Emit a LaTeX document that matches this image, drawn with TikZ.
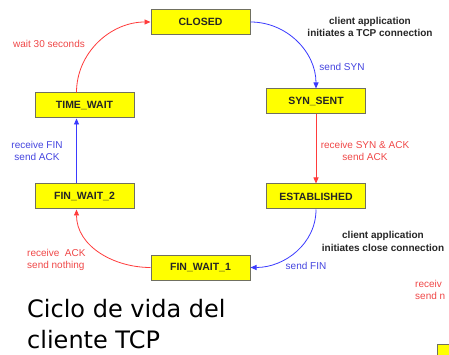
\documentclass[tikz,border=0pt]{standalone}
\usepackage{fontspec}
\setmainfont{Liberation Sans}
\newfontfamily\titlefont{DejaVu Sans}
\usetikzlibrary{arrows.meta}
\definecolor{boxyellow}{HTML}{FFFF00}
\definecolor{boxborder}{HTML}{707060}
\definecolor{arrred}{HTML}{FF3B3B}
\definecolor{arrblue}{HTML}{3A3AFF}
\definecolor{txtred}{HTML}{F04848}
\definecolor{txtblue}{HTML}{4545E0}
\tikzset{
  state/.style={draw=boxborder, line width=1pt, fill=boxyellow, minimum width=99pt, minimum height=25pt, inner sep=0pt, font=\fontsize{10.5}{12}\selectfont\bfseries, text=black!85},
  redarr/.style={draw=arrred, line width=0.8pt, -{Triangle[length=6pt,width=5pt]}},
  bluearr/.style={draw=arrblue, line width=0.8pt, -{Triangle[length=6pt,width=5pt]}},
  redlbl/.style={text=txtred, font=\fontsize{10}{12}\selectfont, inner sep=0pt},
  bluelbl/.style={text=txtblue, font=\fontsize{10}{12}\selectfont, inner sep=0pt},
  blacklbl/.style={text=black!85, font=\fontsize{10}{12.5}\selectfont\bfseries, inner sep=0pt, align=center},
}
\begin{document}
\begin{tikzpicture}[x=1pt,y=-1pt]
\useasboundingbox (0,0) rectangle (449,355);
\clip (0,0) rectangle (449,355);
\fill[white] (0,0) rectangle (449,355);

\node[state] (closed) at (200.5,22) {CLOSED};
\node[state] (timewait) at (84.5,105.5) {TIME\_WAIT};
\node[state] (synsent) at (316,101.5) {SYN\_SENT};
\node[state] (finwait2) at (84.5,196.5) {FIN\_WAIT\_2};
\node[state] (established) at (316,196.5) {ESTABLISHED};
\node[state] (finwait1) at (200.5,267.5) {FIN\_WAIT\_1};

% partial box at bottom right
\node[state, anchor=north west] (partial) at (437,344) {};

% connectors
\draw[redarr] ([xshift=-8pt]timewait.north) to[out=90,in=180] (closed.west);
\draw[bluearr] (closed.east) to[out=0,in=90] (synsent.north);
\draw[redarr] (synsent.south) -- (established.north);
\draw[bluearr] (established.south) to[out=-90,in=0] (finwait1.east);
\draw[redarr] (finwait1.west) to[out=180,in=-90] ([xshift=-8pt]finwait2.south);
\draw[bluearr] ([xshift=-8pt]finwait2.north) -- ([xshift=-8pt]timewait.south);

% labels
\node[redlbl] (l1) at (49,44) {wait 30 seconds};
\node[blacklbl] (l2) at (370,27) {client application\\initiates a TCP connection};
\node[bluelbl] (l3) at (342,67) {send SYN};
\node[redlbl, align=center] (l4) at (365,151) {receive SYN \& ACK\\send ACK};
\node[bluelbl, align=center] (l5) at (37,151) {receive FIN\\send ACK};
\node[blacklbl] (l6) at (383,241.5) {client application\\initiates close connection};
\node[bluelbl] (l7) at (306,266) {send FIN};
\node[redlbl, align=left, anchor=west] (l8) at (27,259.5) {receive\ \ ACK\\send nothing};
\node[redlbl, align=left, anchor=west] (l9) at (415,290) {receiv\\send n};

% title
\node[anchor=north west, inner sep=0pt, align=left, font=\titlefont\fontsize{24}{31}\selectfont] (title) at (27,299) {Ciclo de vida del\\cliente TCP};
\end{tikzpicture}
\end{document}
